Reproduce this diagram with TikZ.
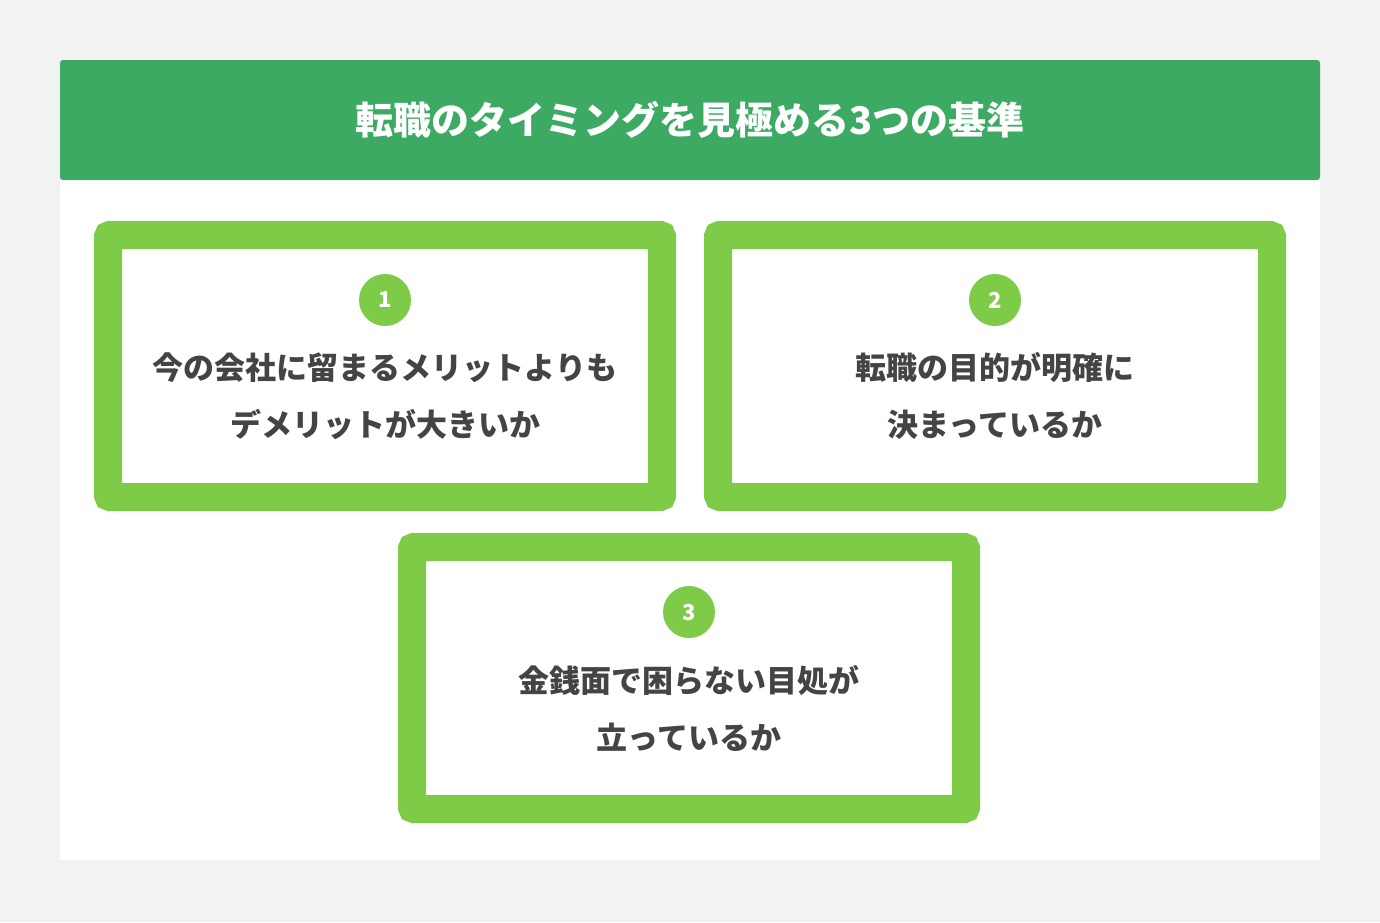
\documentclass[tikz,border=0pt]{standalone}
\usepackage{fontspec}
\newfontfamily\cjk{Noto Sans CJK JP}
\usepackage{tikz}
\usetikzlibrary{positioning}
\definecolor{bggray}{HTML}{F2F2F2}
\definecolor{titlegreen}{HTML}{3DAA64}
\definecolor{boxgreen}{HTML}{7DCB47}
\definecolor{textgray}{HTML}{444444}
\tikzstyle{titlebar} = [rectangle, fill=titlegreen, rounded corners=3pt, minimum width=1260pt, minimum height=120pt, text=white, font=\cjk\bfseries\fontsize{38}{44}\selectfont]
\tikzstyle{pointbox} = [rectangle, draw=boxgreen, line width=28pt, fill=white, rounded corners=2pt, minimum width=554pt, minimum height=262pt]
\tikzstyle{numdot} = [circle, fill=boxgreen, minimum size=52pt, inner sep=0pt, text=white, font=\cjk\bfseries\fontsize{22}{24}\selectfont]
\tikzstyle{pointtext} = [align=center, text=textgray, font=\cjk\bfseries\fontsize{31}{57}\selectfont]
\begin{document}
\begin{tikzpicture}[x=1pt, y=-1pt]
\fill[bggray] (0,0) rectangle (1380,922);
\useasboundingbox (0,0) rectangle (1380,922);
\fill[white] (60,180) rectangle (1320,860);
\node (Title) [titlebar] at (690,120) {転職のタイミングを見極める3つの基準};
\node (B1) [pointbox] at (385,366) {};
\node (B2) [pointbox] at (995,366) {};
\node (B3) [pointbox] at (689,678) {};
\node (N1) [numdot] at (385,300) {1};
\node (N2) [numdot] at (995,300) {2};
\node (N3) [numdot] at (689,612) {3};
\node (T1) [pointtext] at (385,396) {今の会社に留まるメリットよりも\\デメリットが大きいか};
\node (T2) [pointtext] at (995,396) {転職の目的が明確に\\決まっているか};
\node (T3) [pointtext] at (689,708) {金銭面で困らない目処が\\立っているか};
\end{tikzpicture}
\end{document}
